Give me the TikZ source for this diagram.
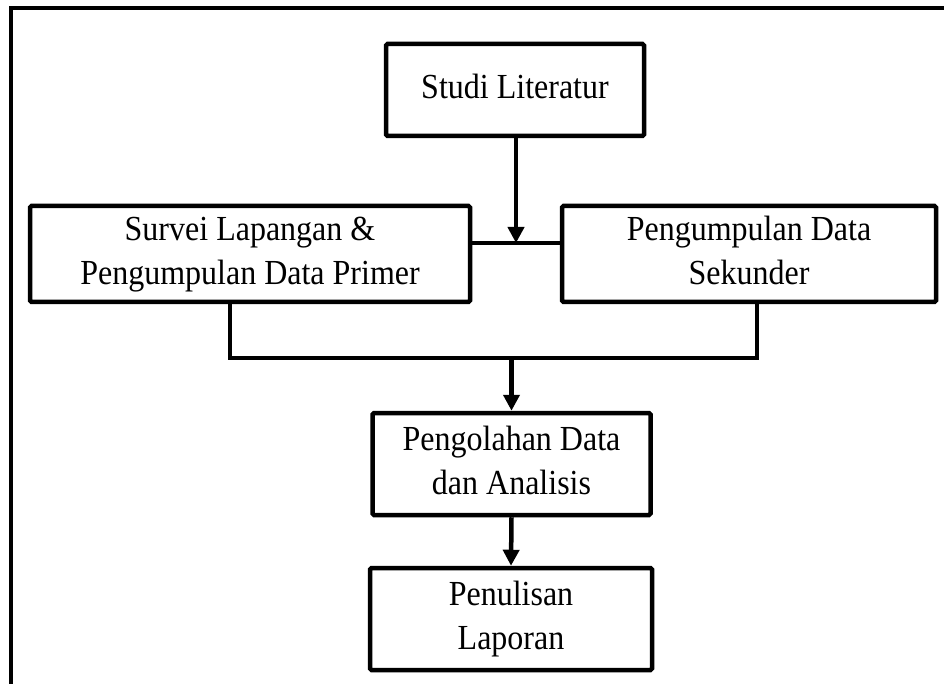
\documentclass[tikz,border=0pt]{standalone}
\usepackage{fontspec}
\usepackage{graphicx}
\setmainfont{Liberation Serif}
\usetikzlibrary{arrows.meta}
\newcommand\vtxt[1]{\scalebox{1}[1.1]{\begin{tabular}{@{}c@{}}#1\end{tabular}}}
\begin{document}
\begin{tikzpicture}[x=1pt,y=-1pt,
  box/.style={draw,line width=4.5pt,rounded corners=1.5pt,align=center,inner sep=0pt,
    font=\fontsize{32}{40}\selectfont},
  conn/.style={line width=4.5pt},
  arr/.style={line width=4.5pt,-{Triangle[length=16pt,width=16pt]}}]
\useasboundingbox (0,0) rectangle (944,684);
% outer frame
\draw[line width=4pt] (11,684) -- (11,8) -- (944,8);
% boxes
\node[box,minimum width=258pt,minimum height=92pt] (studi) at (515,90) {\vtxt{Studi Literatur}};
\node[box,minimum width=440pt,minimum height=96pt] (survei) at (250,254) {\vtxt{Survei Lapangan \&\\Pengumpulan Data Primer}};
\node[box,minimum width=374pt,minimum height=96pt] (sekunder) at (749,254) {\vtxt{Pengumpulan Data\\Sekunder}};
\node[box,minimum width=278pt,minimum height=102pt] (olah) at (511.5,464) {\vtxt{Pengolahan Data\\dan Analisis}};
\node[box,minimum width=282pt,minimum height=102pt] (tulis) at (511,619) {\vtxt{Penulisan\\Laporan}};
% connectors
\coordinate (jn) at (516,243);
\coordinate (bl) at (230,358);
\coordinate (br) at (757,358);
\coordinate (bm) at (511.5,358);
\draw[arr] (studi.south -| jn) -- (jn);
\draw[conn] (survei.east |- jn) -- (sekunder.west |- jn);
\draw[conn] (survei.south -| bl) -- (bl) -- (br) -- (sekunder.south -| br);
\draw[arr] (bm) -- (olah.north);
\draw[arr] (olah.south) -- (tulis.north);
\end{tikzpicture}
\end{document}
